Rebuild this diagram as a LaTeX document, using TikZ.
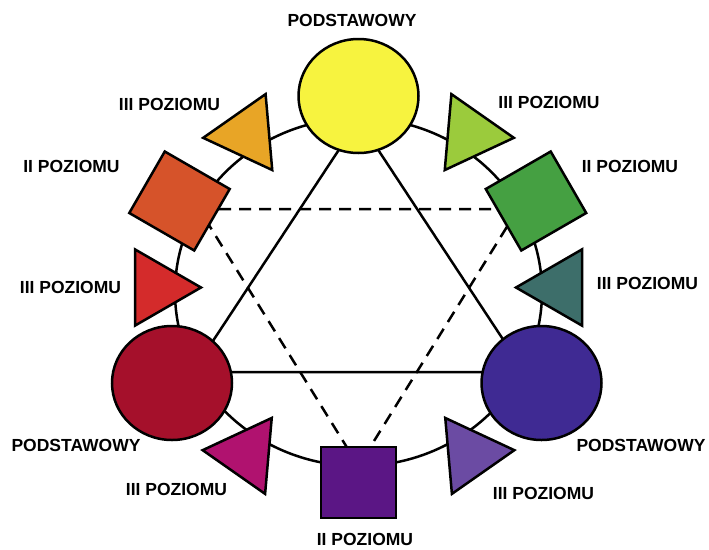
\documentclass[tikz,border=0pt]{standalone}
\usepackage{fontspec}
\setmainfont{Liberation Sans}
\usepackage{xcolor}
\usetikzlibrary{shapes.geometric}

\definecolor{zolty}{HTML}{F7F33F}
\definecolor{czerw}{HTML}{A5102B}
\definecolor{nieb}{HTML}{3F2A93}
\definecolor{pomTr}{HTML}{E8A526}
\definecolor{pomKw}{HTML}{D6532A}
\definecolor{czTr}{HTML}{D42B2B}
\definecolor{maTr}{HTML}{B0126F}
\definecolor{fiKw}{HTML}{5B1685}
\definecolor{fiTr}{HTML}{6B4BA3}
\definecolor{moTr}{HTML}{3D6E6A}
\definecolor{ziKw}{HTML}{45A042}
\definecolor{ziTr}{HTML}{9BCB3C}

\tikzset{
  ksztalt/.style={draw=black, line width=2.5pt, inner sep=0pt, outer sep=0pt},
  kolo/.style={ksztalt, ellipse, minimum width=120pt, minimum height=114pt},
  kwadrat/.style={ksztalt, rectangle, minimum width=75pt, minimum height=71pt},
  trojkat/.style={ksztalt, regular polygon, regular polygon sides=3, minimum size=88pt},
  opis/.style={font=\bfseries\fontsize{17.5}{20}\selectfont, inner sep=0pt},
  pierscien/.style={line width=2.5pt},
  kreska/.style={line width=2.5pt, dash pattern=on 12pt off 8pt}
}

\begin{document}
\begin{tikzpicture}[x=1pt, y=-1pt]
				  \useasboundingbox (0,0) rectangle (709,549);
				  % wierzcholki trojkatow
				  \coordinate (s) at (358.5,292);
				  \coordinate (1) at (358.5,120);
				  \coordinate (2) at (192.5,372);
				  \coordinate (3) at (524.5,372);
				  \coordinate (a) at (199,209);
				  \coordinate (b) at (518,209);
				  \coordinate (c) at (358.5,466);
				  \draw[pierscien] (s) ellipse [x radius=183.5, y radius=174];
				  \draw[pierscien] (1) -- (2) -- (3) -- cycle;
				  \draw[kreska] (a) -- (b) -- (c) -- cycle;
				  % kola
				  \node[kolo, fill=zolty] (Y) at (358.5,96) {};
				  \node[kolo, fill=czerw] (R) at (172,383) {};
				  \node[kolo, fill=nieb] (B) at (541.5,383) {};
				  % kwadraty
				  \node[kwadrat, fill=pomKw, rotate=-30] (O) at (179.5,201) {};
				  \node[kwadrat, fill=ziKw, rotate=30] (G) at (536,201) {};
				  \node[kwadrat, fill=fiKw] (V) at (358.5,482.5) {};
				  % trojkaty
				  \node[trojkat, fill=pomTr, rotate=95] (YO) at (247,134) {};
				  \node[trojkat, fill=ziTr, rotate=-95] (YG) at (470,134) {};
				  \node[trojkat, fill=czTr, rotate=-90] (RO) at (157,287.5) {};
				  \node[trojkat, fill=moTr, rotate=90] (BG) at (560,287.5) {};
				  \node[trojkat, fill=maTr, rotate=85] (RV) at (246.5,454) {};
				  \node[trojkat, fill=fiTr, rotate=-85] (BV) at (470.5,454) {};
				  % opisy
				  \node[opis] (tY) at (352,20) {PODSTAWOWY};
				  \node[opis] (tR) at (76,445) {PODSTAWOWY};
				  \node[opis] (tB) at (641,445) {PODSTAWOWY};
				  \node[opis] (tO) at (71.5,166.5) {II POZIOMU};
				  \node[opis] (tG) at (630,166.5) {II POZIOMU};
				  \node[opis] (tV) at (365,539) {II POZIOMU};
				  \node[opis] (tYO) at (169.5,104.5) {III POZIOMU};
				  \node[opis] (tYG) at (549,102.5) {III POZIOMU};
				  \node[opis] (tRO) at (70.5,287.5) {III POZIOMU};
				  \node[opis] (tBG) at (647.5,283) {III POZIOMU};
				  \node[opis] (tRV) at (176.5,489.5) {III POZIOMU};
				  \node[opis] (tBV) at (543.5,493) {III POZIOMU};
				\end{tikzpicture}
\end{document}
